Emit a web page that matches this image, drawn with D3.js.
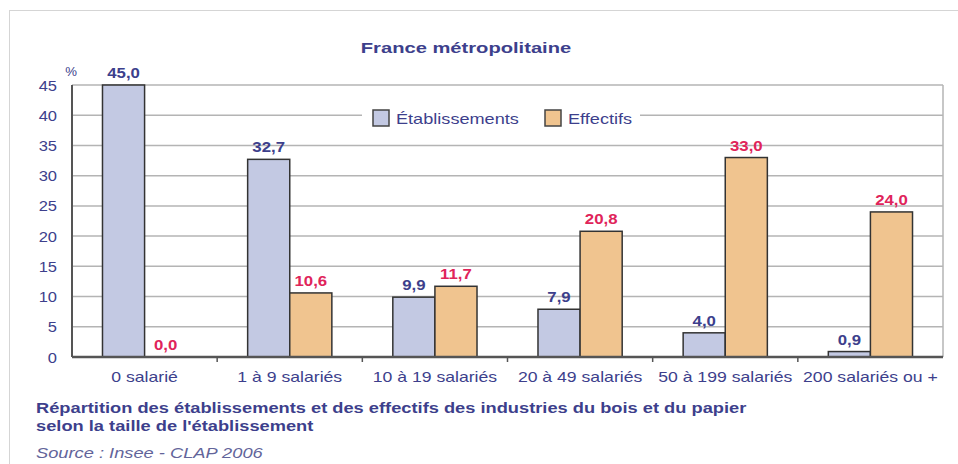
<!DOCTYPE html>
<html>
<head>
<meta charset="utf-8">
<script src="https://cdn.jsdelivr.net/npm/d3@7"></script>
<style>
  body { margin: 0; background: #fff; }
  svg { display: block; font-family: "Liberation Sans", Arial, sans-serif; }
</style>
</head>
<body>
<svg id="chart" width="958" height="464"></svg>
<script>
// Values
var categories = ['0 salarié', '1 à 9 salariés', '10 à 19 salariés', '20 à 49 salariés', '50 à 199 salariés', '200 salariés ou +'];
var seriesNames = ['Établissements', 'Effectifs'];
var etablissements = [45.0, 32.7, 9.9, 7.9, 4.0, 0.9];
var effectifs = [0.0, 10.6, 11.7, 20.8, 33.0, 24.0];
var yTicks = [0, 5, 10, 15, 20, 25, 30, 35, 40, 45];

var TITLE = 'France métropolitaine';
var CAPTION = ['Répartition des établissements et des effectifs des industries du bois et du papier',
  'selon la taille de l\'établissement'];
var SOURCE = 'Source : Insee - CLAP 2006';

var NAVY = '#3d3f8c';
var RED = '#e0245a';
var FILLS = ['#c3c9e3', '#f0c48f'];
// the reference picture is stretched sideways, so texts are too
var SX = 1.22;

var svg = d3.select('#chart');
var plot = { left: 72, right: 943, top: 85, bottom: 357 };

var x = d3.scaleBand().domain(categories).range([plot.left, plot.right]).paddingInner(0.42).paddingOuter(0.21);
var x1 = d3.scaleBand().domain(seriesNames).range([0, x.bandwidth()]);
var y = d3.scaleLinear().domain([0, 45]).range([plot.bottom, plot.top]);

// Place a text at (px, py), stretched horizontally
function label(px, py, str, opts) {
  var g = svg.append('g').attr('transform', 'translate(' + px + ',' + py + ')');
  var t = g.append('text')
    .attr('transform', 'scale(' + (opts.sx || SX) + ',1)')
    .attr('text-anchor', opts.anchor || 'start')
    .attr('font-size', opts.size || 14)
    .attr('font-weight', opts.weight || 'normal')
    .attr('font-style', opts.style || 'normal')
    .attr('fill', opts.color || NAVY)
    .text(str);
  return t;
}

// dotted frame around the whole figure
svg.append('rect').attr('x', 9.5).attr('y', 10.5).attr('width', 1000).attr('height', 500)
  .attr('fill', 'none').attr('stroke', '#aaa').attr('stroke-dasharray', '1,1');

// gridlines
svg.append('g').selectAll('line').data(yTicks.filter(function (d) { return d > 0; })).enter().append('line')
  .attr('x1', plot.left).attr('x2', plot.right)
  .attr('y1', function (d) { return y(d); }).attr('y2', function (d) { return y(d); })
  .attr('stroke', '#b4b4b4').attr('stroke-width', 1.5);
svg.append('line').attr('x1', plot.right).attr('x2', plot.right).attr('y1', plot.top).attr('y2', plot.bottom)
  .attr('stroke', '#b4b4b4').attr('stroke-width', 1.5);

// legend sits on the 40 gridline
var legend = svg.append('g');
legend.append('rect').attr('x', 362).attr('y', 104).attr('width', 278).attr('height', 28).attr('fill', '#fff');
var legendX = [373, 545];
seriesNames.forEach(function (name, i) {
  legend.append('rect').attr('x', legendX[i]).attr('y', 110).attr('width', 16).attr('height', 16)
    .attr('fill', FILLS[i]).attr('stroke', '#444').attr('stroke-width', 1.5);
  label(legendX[i] + 23, 124, name, { size: 14.5, sx: 1.25 });
});

// bars
var groups = svg.append('g').selectAll('g').data(categories).enter().append('g')
  .attr('transform', function (d) { return 'translate(' + x(d) + ',0)'; });
[etablissements, effectifs].forEach(function (values, s) {
  groups.append('rect')
    .attr('x', x1(seriesNames[s]))
    .attr('y', function (d, i) { return y(values[i]); })
    .attr('width', x1.bandwidth())
    .attr('height', function (d, i) { return y(0) - y(values[i]); })
    .attr('fill', FILLS[s]).attr('stroke', '#333').attr('stroke-width', 1.5);
});

// axes
svg.append('line').attr('x1', plot.left).attr('x2', plot.left).attr('y1', plot.top).attr('y2', plot.bottom)
  .attr('stroke', '#555').attr('stroke-width', 2);
svg.append('line').attr('x1', plot.left).attr('x2', plot.right).attr('y1', plot.bottom).attr('y2', plot.bottom)
  .attr('stroke', '#555').attr('stroke-width', 2.5);
svg.append('g').selectAll('line').data(categories.slice(1)).enter().append('line')
  .attr('x1', function (d) { return x(d) - x.step() * x.paddingInner() / 2; })
  .attr('x2', function (d) { return x(d) - x.step() * x.paddingInner() / 2; })
  .attr('y1', plot.bottom).attr('y2', plot.bottom + 5)
  .attr('stroke', '#555').attr('stroke-width', 1.5);

// y tick labels
yTicks.forEach(function (t) {
  label(57, y(t) + 5.5, t, { anchor: 'end', size: 15, sx: 1.1 });
});
label(71, 76, '%', { anchor: 'middle', size: 12, sx: 1.1 });

// category labels
categories.forEach(function (c) {
  label(x(c) + x.bandwidth() / 2, 382, c, { anchor: 'middle', size: 14, sx: 1.26 });
});

// value labels
function fmt(v) { return v.toFixed(1).replace('.', ','); }
[etablissements, effectifs].forEach(function (values, s) {
  categories.forEach(function (c, i) {
    label(x(c) + x1(seriesNames[s]) + x1.bandwidth() / 2, y(values[i]) - 7, fmt(values[i]),
      { anchor: 'middle', size: 14, weight: 'bold', color: s === 0 ? NAVY : RED, sx: 1.2 });
  });
});

// title, caption, source
label(466, 53, TITLE, { anchor: 'middle', size: 15.5, weight: 'bold', sx: 1.3 });
label(36, 413, CAPTION[0], { size: 14.5, weight: 'bold', sx: 1.26 });
label(36, 431, CAPTION[1], { size: 14.5, weight: 'bold', sx: 1.26 });
label(36, 458, SOURCE, { size: 14.5, style: 'italic', color: '#62649a', sx: 1.26 });
</script>
</body>
</html>
